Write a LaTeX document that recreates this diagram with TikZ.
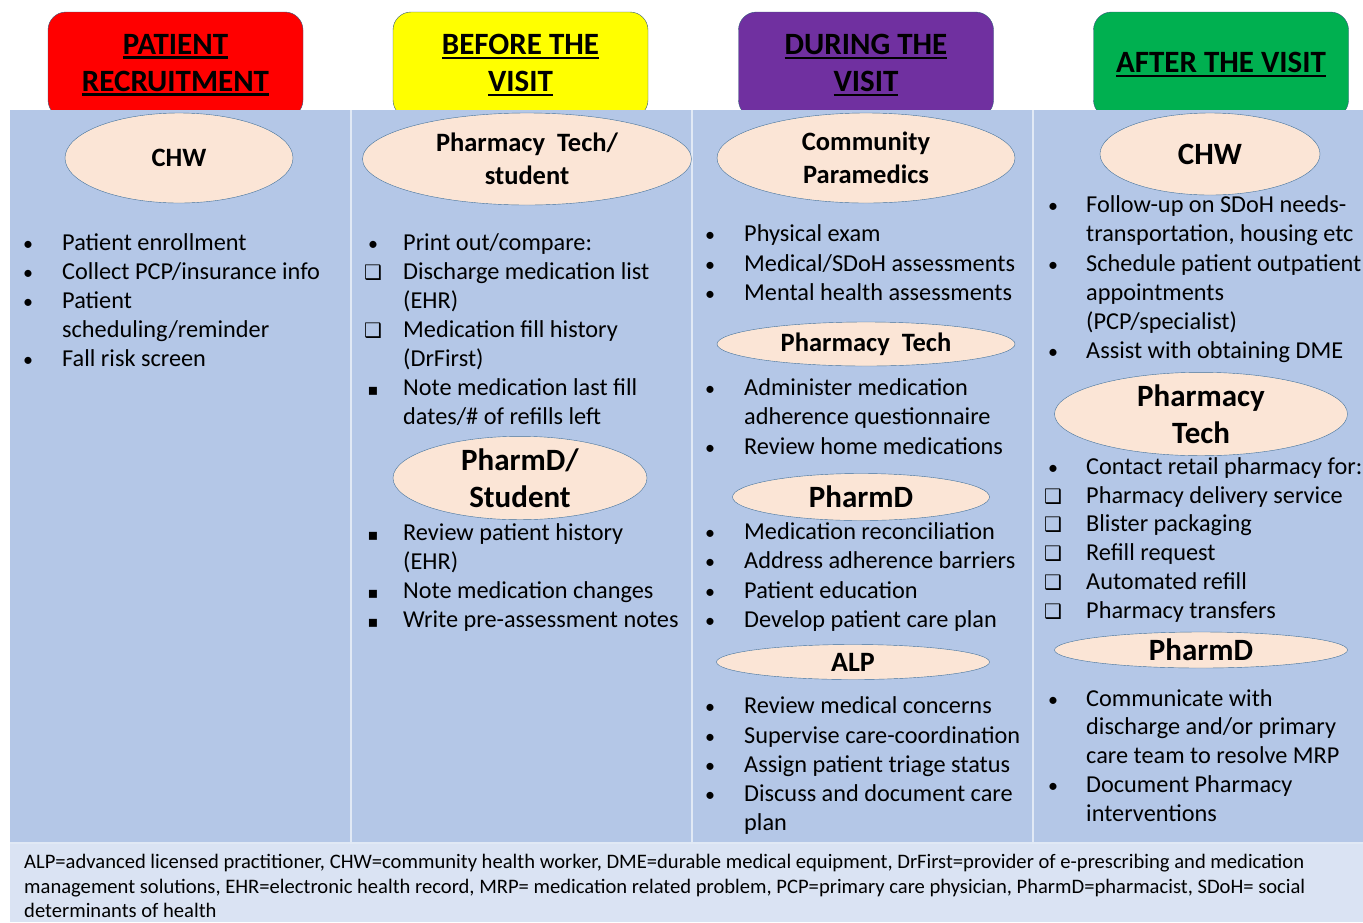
\documentclass[tikz,border=0pt]{standalone}
\usepackage{fontspec}
\setmainfont{Carlito}
\newfontfamily\symfont{DejaVu Sans}
\usetikzlibrary{shapes.geometric}
\definecolor{recruitred}{RGB}{255,0,0}
\definecolor{beforeyellow}{RGB}{255,255,0}
\definecolor{duringpurple}{RGB}{112,48,160}
\definecolor{aftergreen}{RGB}{0,176,80}
\definecolor{panelblue}{RGB}{180,199,231}
\definecolor{footblue}{RGB}{218,227,243}
\definecolor{rolepeach}{RGB}{251,229,214}
\definecolor{edgeblue}{RGB}{65,113,156}

\newcommand{\bdot}{{\fontsize{20}{20}\selectfont\textbullet}}
\newcommand{\bbox}{{\symfont\bfseries\fontsize{20}{20}\selectfont ❑}}
\newcommand{\bsq}{{\symfont\fontsize{16}{16}\selectfont ▪}}
\newcommand{\hul}[1]{\setbox0\hbox{#1}\rlap{\rule[-4.5pt]{\wd0}{2.4pt}}\box0}

\begin{document}
\begin{tikzpicture}[x=1pt,y=-1pt,
  hdr/.style={rectangle, rounded corners=18pt, draw=edgeblue!80!black, thin, minimum width=255pt, minimum height=106pt, font=\fontsize{31}{37}\selectfont\bfseries, align=center},
  role/.style={ellipse, draw=edgeblue, fill=rolepeach, inner sep=0pt, align=center},
  small/.style={font=\fontsize{26.5}{33}\selectfont\bfseries},
  large/.style={font=\fontsize{31}{37}\selectfont\bfseries},
  item/.style={anchor=base west, inner sep=0pt, font=\fontsize{24.3}{29}\selectfont},
  bul/.style={anchor=base, inner sep=0pt, font=\fontsize{24}{29}\selectfont},
  foot/.style={anchor=base west, inner sep=0pt, font=\fontsize{20.6}{24}\selectfont}]
    \useasboundingbox (0,0) rectangle (1363,922);

    % Phase headers
    \node[hdr, fill=recruitred] (recruit) at (175.5,65) {\hul{PATIENT}\\\hul{RECRUITMENT}};
    \node[hdr, fill=beforeyellow] (before) at (520.5,65) {\hul{BEFORE THE}\\\hul{VISIT}};
    \node[hdr, fill=duringpurple] (during) at (866,65) {\hul{DURING THE}\\\hul{VISIT}};
    \node[hdr, fill=aftergreen] (after) at (1221,65) {\hul{AFTER THE VISIT}};

    % Panel and footer
    \fill[panelblue] (10,110) rectangle (1363,843);
    \fill[footblue] (10,843) rectangle (1363,922);
    \draw[white!60!panelblue, line width=1.5pt] (10,843) -- (1363,843);
    \foreach \x in {351,692,1033}
      \draw[white!60!panelblue, line width=1.5pt] (\x,110) -- (\x,843);

    % Roles
    \node[role, small, minimum width=228pt, minimum height=90pt] (chwa) at (179,158) {CHW};
    \node[role, small, minimum width=329pt, minimum height=92pt] (techa) at (527,159) {Pharmacy\ \ Tech/\\student};
    \node[role, large, minimum width=254pt, minimum height=83pt] (pharmda) at (520,478) {PharmD/\\Student};
    \node[role, small, minimum width=298pt, minimum height=90pt] (medic) at (866,158) {Community\\Paramedics};
    \node[role, small, minimum width=298pt, minimum height=44pt] (techb) at (866,344) {Pharmacy\ \ Tech};
    \node[role, large, minimum width=257pt, minimum height=47pt] (pharmdb) at (861,497) {PharmD};
    \node[role, small, minimum width=273pt, minimum height=35pt, font=\fontsize{28}{33}\selectfont\bfseries] (alp) at (853,662) {ALP};
    \node[role, large, minimum width=220pt, minimum height=82pt] (chwb) at (1210,154) {CHW};
    \node[role, large, minimum width=293pt, minimum height=81pt] (techc) at (1201,414) {Pharmacy\\Tech};
    \node[role, large, minimum width=293pt, minimum height=36pt] (pharmdc) at (1201,650) {PharmD};

    % Patient recruitment tasks
    \foreach \y/\bt/\txt in {242/\bdot/Patient enrollment, 271/\bdot/{Collect PCP/insurance info},
        300/\bdot/Patient, 329//{scheduling/reminder}, 358/\bdot/Fall risk screen} {
      \node[bul] (c1b\y) at (28,\y+8) {\bt};
      \node[item] (c1t\y) at (62,\y+8) {\txt};
    }

    % Before the visit tasks
    \foreach \y/\bt/\txt in {242/\bdot/{Print out/compare:}, 271/\bbox/Discharge medication list,
        300//{(EHR)}, 329/\bbox/Medication fill history, 358//{(DrFirst)},
        387/\bsq/Note medication last fill, 416//{dates/\# of refills left},
        532/\bsq/Review patient history, 561//{(EHR)}, 590/\bsq/Note medication changes,
        619/\bsq/Write pre-assessment notes} {
      \node[bul] (c2b\y) at (373,\y+8) {\bt};
      \node[item] (c2t\y) at (403,\y+8) {\txt};
    }

    % During the visit tasks
    \foreach \y/\bt/\txt in {233/\bdot/Physical exam, 263/\bdot/{Medical/SDoH assessments},
        292/\bdot/Mental health assessments, 387/\bdot/Administer medication,
        416//adherence questionnaire, 446/\bdot/Review home medications,
        531/\bdot/Medication reconciliation, 560/\bdot/Address adherence barriers,
        590/\bdot/Patient education, 619/\bdot/Develop patient care plan,
        705/\bdot/Review medical concerns, 735/\bdot/Supervise care-coordination,
        764/\bdot/Assign patient triage status, 793/\bdot/Discuss and document care, 822//plan} {
      \node[bul] (c3b\y) at (710,\y+8) {\bt};
      \node[item] (c3t\y) at (744,\y+8) {\txt};
    }

    % After the visit tasks
    \foreach \y/\bt/\txt in {204/\bdot/Follow-up on SDoH needs-, 233//{transportation, housing etc},
        263/\bdot/Schedule patient outpatient, 292//appointments, 321//{(PCP/specialist)},
        350/\bdot/Assist with obtaining DME, 466/\bdot/Contact retail pharmacy for:,
        495/\bbox/Pharmacy delivery service, 523/\bbox/Blister packaging, 552/\bbox/Refill request,
        581/\bbox/Automated refill, 610/\bbox/Pharmacy transfers, 698/\bdot/Communicate with,
        726//{discharge and/or primary}, 755//care team to resolve MRP,
        784/\bdot/Document Pharmacy, 813//interventions} {
      \node[bul] (c4b\y) at (1053,\y+8) {\bt};
      \node[item] (c4t\y) at (1086,\y+8) {\txt};
    }

    % Abbreviations
    \node[foot] (abbr1) at (24,868) {ALP=advanced licensed practitioner, CHW=community health worker, DME=durable medical equipment, DrFirst=provider of e-prescribing and medication};
    \node[foot] (abbr2) at (24,893) {management solutions, EHR=electronic health record, MRP= medication related problem, PCP=primary care physician, PharmD=pharmacist, SDoH= social};
    \node[foot] (abbr3) at (24,917) {determinants of health};
\end{tikzpicture}
\end{document}
